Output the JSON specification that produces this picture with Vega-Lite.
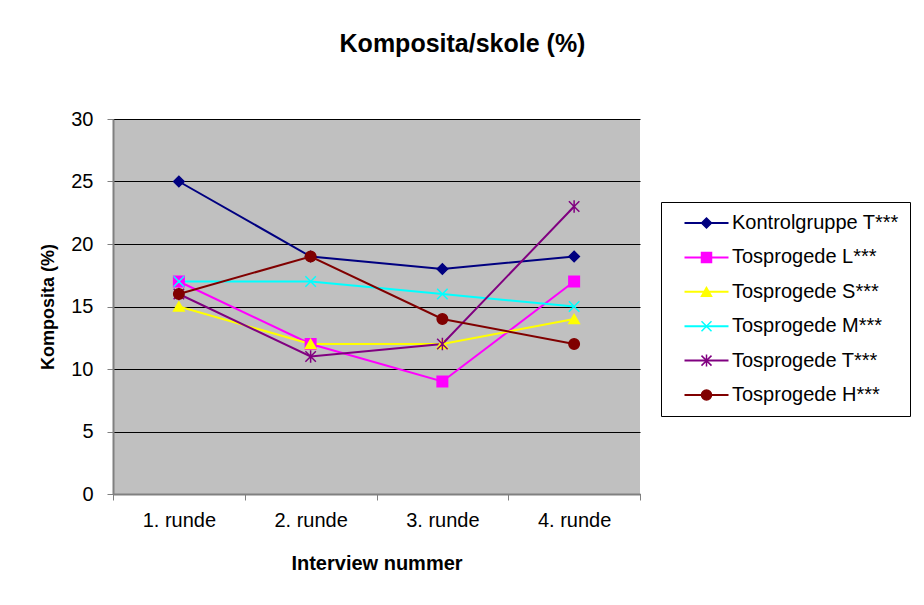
{
  "$schema": "https://vega.github.io/schema/vega-lite/v6.json",
  "autosize": {"type": "none"},
  "width": 527,
  "height": 375,
  "padding": {"left": 113, "top": 119, "right": 284, "bottom": 111},
  "background": "white",
  "title": {
    "text": "Komposita/skole (%)",
    "font": "Liberation Sans",
    "fontSize": 25,
    "fontWeight": "bold",
    "color": "black",
    "anchor": "middle",
    "frame": "group",
    "dx": 86,
    "offset": 52
  },
  "data": {
    "values": [
      {"runde": "1. runde", "serie": "Kontrolgruppe T***", "v": 25},
      {"runde": "2. runde", "serie": "Kontrolgruppe T***", "v": 19},
      {"runde": "3. runde", "serie": "Kontrolgruppe T***", "v": 18},
      {"runde": "4. runde", "serie": "Kontrolgruppe T***", "v": 19},
      {"runde": "1. runde", "serie": "Tosprogede L***", "v": 17},
      {"runde": "2. runde", "serie": "Tosprogede L***", "v": 12},
      {"runde": "3. runde", "serie": "Tosprogede L***", "v": 9},
      {"runde": "4. runde", "serie": "Tosprogede L***", "v": 17},
      {"runde": "1. runde", "serie": "Tosprogede S***", "v": 15},
      {"runde": "2. runde", "serie": "Tosprogede S***", "v": 12},
      {"runde": "3. runde", "serie": "Tosprogede S***", "v": 12},
      {"runde": "4. runde", "serie": "Tosprogede S***", "v": 14},
      {"runde": "1. runde", "serie": "Tosprogede M***", "v": 17},
      {"runde": "2. runde", "serie": "Tosprogede M***", "v": 17},
      {"runde": "3. runde", "serie": "Tosprogede M***", "v": 16},
      {"runde": "4. runde", "serie": "Tosprogede M***", "v": 15},
      {"runde": "1. runde", "serie": "Tosprogede T***", "v": 16},
      {"runde": "2. runde", "serie": "Tosprogede T***", "v": 11},
      {"runde": "3. runde", "serie": "Tosprogede T***", "v": 12},
      {"runde": "4. runde", "serie": "Tosprogede T***", "v": 23},
      {"runde": "1. runde", "serie": "Tosprogede H***", "v": 16},
      {"runde": "2. runde", "serie": "Tosprogede H***", "v": 19},
      {"runde": "3. runde", "serie": "Tosprogede H***", "v": 14},
      {"runde": "4. runde", "serie": "Tosprogede H***", "v": 12}
    ]
  },
  "encoding": {
    "x": {
      "field": "runde",
      "type": "ordinal",
      "sort": ["1. runde", "2. runde", "3. runde", "4. runde"],
      "scale": {"type": "band", "paddingInner": 0, "paddingOuter": 0},
      "axis": {
        "title": "Interview nummer",
        "labelAngle": 0,
        "tickBand": "extent",
        "tickSize": 6,
        "labelPadding": 10,
        "titleFontSize": 20,
        "titleX": 263.5,
        "titleY": 69,
        "titleBaseline": "middle",
        "titleAlign": "center"
      }
    },
    "y": {
      "field": "v",
      "type": "quantitative",
      "scale": {"domain": [0, 30], "nice": false},
      "axis": {
        "title": "Komposita (%)",
        "values": [0, 5, 10, 15, 20, 25, 30],
        "tickSize": 6,
        "labelPadding": 14,
        "grid": true,
        "titleFontSize": 18,
        "titleX": -65,
        "titleY": 187.5,
        "titleAngle": -90,
        "titleBaseline": "middle",
        "titleAlign": "center"
      }
    }
  },
  "layer": [
    {
      "mark": {"type": "line", "strokeWidth": 2},
      "encoding": {
        "color": {
          "field": "serie",
          "type": "nominal",
          "scale": {
            "domain": ["Kontrolgruppe T***", "Tosprogede L***", "Tosprogede S***", "Tosprogede M***", "Tosprogede T***", "Tosprogede H***"],
            "range": ["#000080", "#FF00FF", "#FFFF00", "#00FFFF", "#800080", "#800000"]
          },
          "legend": {
            "title": null,
            "orient": "none",
            "legendX": 548,
            "legendY": 83,
            "symbolType": "M-4.4,0L4.4,0",
            "symbolSize": 100,
            "symbolStrokeWidth": 2,
            "labelOpacity": 0,
            "strokeColor": "black"
          }
        }
      }
    },
    {
      "mark": {"type": "point", "filled": true, "size": 110, "strokeWidth": 1.5, "opacity": 1},
      "encoding": {
        "color": {
          "field": "serie",
          "type": "nominal",
          "legend": {"title": null, "orient": "none", "legendX": 548, "legendY": 83, "symbolSize": 100}
        },
        "stroke": {
          "field": "serie",
          "type": "nominal",
          "scale": {
            "domain": ["Kontrolgruppe T***", "Tosprogede L***", "Tosprogede S***", "Tosprogede M***", "Tosprogede T***", "Tosprogede H***"],
            "range": ["#000080", "#FF00FF", "#FFFF00", "#00FFFF", "#800080", "#800000"]
          },
          "legend": {"title": null, "orient": "none", "legendX": 548, "legendY": 83, "symbolSize": 100}
        },
        "shape": {
          "field": "serie",
          "type": "nominal",
          "scale": {
            "domain": ["Kontrolgruppe T***", "Tosprogede L***", "Tosprogede S***", "Tosprogede M***", "Tosprogede T***", "Tosprogede H***"],
            "range": ["diamond", "square", "triangle-up", "M-1,-1L1,1M-1,1L1,-1", "M-1,-1L1,1M-1,1L1,-1M0,-1.2L0,1.2", "circle"]
          },
          "legend": {"title": null, "orient": "none", "legendX": 548, "legendY": 83, "symbolSize": 100}
        }
      }
    }
  ],
  "resolve": {"legend": {"color": "independent", "shape": "independent", "stroke": "independent"}},
  "config": {
    "font": "Liberation Sans",
    "view": {"fill": "#C0C0C0", "stroke": null},
    "axis": {
      "labelFont": "Liberation Sans",
      "labelFontSize": 20,
      "labelColor": "black",
      "titleFont": "Liberation Sans",
      "titleFontSize": 18,
      "titleFontWeight": "bold",
      "titleColor": "black",
      "domainColor": "#808080",
      "domainWidth": 2,
      "tickColor": "#808080",
      "tickWidth": 1,
      "gridColor": "black",
      "gridWidth": 1,
      "gridOpacity": 1
    },
    "axisX": {"grid": false},
    "legend": {
      "labelFont": "Liberation Sans",
      "labelFontSize": 20,
      "labelColor": "black",
      "padding": 11,
      "rowPadding": 14.4,
      "symbolOffset": 24.5,
      "labelOffset": 15.5,
      "labelLimit": 300
    }
  }
}
